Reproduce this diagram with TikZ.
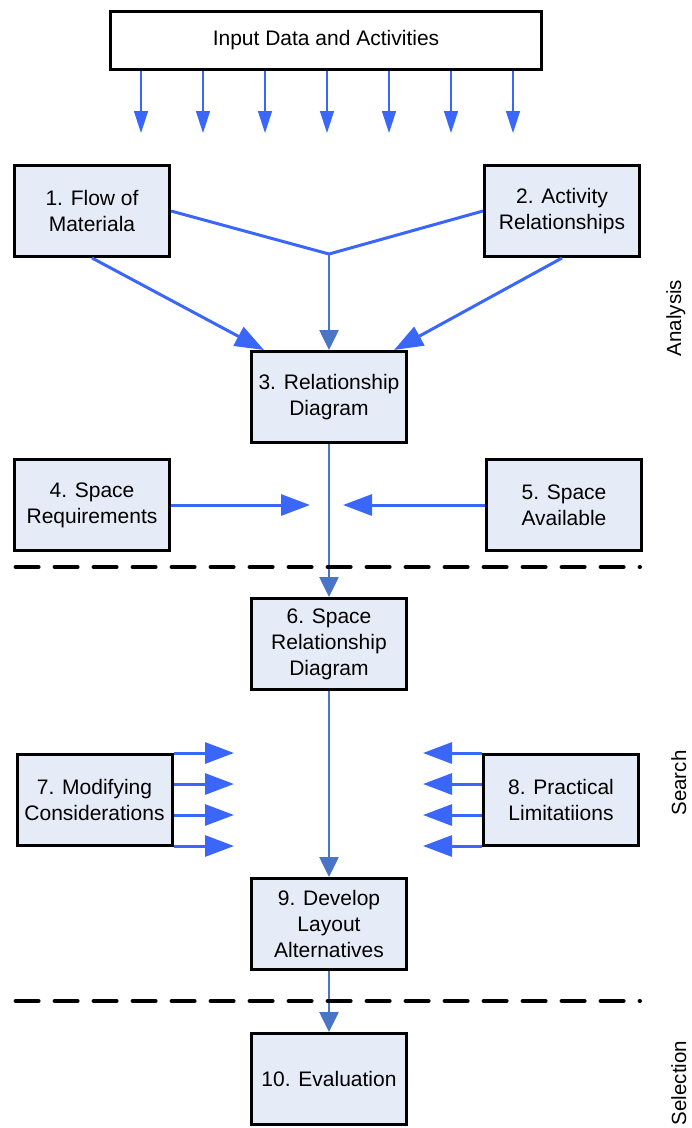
\documentclass[tikz,border=0pt]{standalone}
\usepackage{fontspec}
\setmainfont{Liberation Sans}
\usetikzlibrary{arrows.meta,calc}

\definecolor{boxfill}{RGB}{230,236,247}
\definecolor{flowblue}{RGB}{58,102,250}
\definecolor{mainblue}{RGB}{72,118,196}

\tikzset{
  stepbox/.style={draw=black, line width=3pt, fill=boxfill, align=center,
    minimum width=155pt, minimum height=91pt, inner sep=2pt,
    font=\fontsize{21}{26}\selectfont},
  inbox/.style={draw=black, line width=3pt, fill=white, align=center,
    minimum width=431pt, minimum height=58pt,
    font=\fontsize{21}{26}\selectfont},
  feed/.style={draw=flowblue, line width=1.4pt, -{Triangle[length=22pt,width=14pt]}},
  side/.style={draw=flowblue, line width=3pt, -{Triangle[length=29pt,width=21pt]}},
  merge/.style={draw=flowblue, line width=3pt, line join=miter},
  mainflow/.style={draw=mainblue, line width=2.6pt, -{Triangle[length=20pt,width=19pt]}},
  divider/.style={draw=black, line width=4pt, line cap=round, dash pattern=on 23pt off 16pt},
  phase/.style={rotate=90, anchor=base, inner sep=0pt, font=\fontsize{20.5}{24}\selectfont}
}

\begin{document}
\begin{tikzpicture}[x=1pt,y=-1pt]
\useasboundingbox (0,0) rectangle (692,1128);

% boxes
\node[inbox]   (in)  at (326,40.5) {Input Data and Activities};
\node[stepbox] (b1)  at (92,211)   {1. Flow of\\Materiala};
\node[stepbox] (b2)  at (562,211)  {2. Activity\\Relationships};
\node[stepbox] (b3)  at (329,397)  {3. Relationship\\Diagram};
\node[stepbox] (b4)  at (92,505)   {4. Space\\Requirements};
\node[stepbox] (b5)  at (564,505)  {5. Space\\Available};
\node[stepbox] (b6)  at (329,644)  {6. Space\\Relationship\\Diagram};
\node[stepbox] (b7)  at (94.5,799.5) {7. Modifying\\Considerations};
\node[stepbox] (b8)  at (561,799.5)  {8. Practical\\Limitatiions};
\node[stepbox] (b9)  at (329,924)  {9. Develop\\Layout\\Alternatives};
\node[stepbox] (b10) at (329,1079) {10. Evaluation};

% input feeds
\foreach \i/\x in {1/141,2/203,3/265,4/327,5/389,6/451,7/513}{
  \coordinate (t\i) at (\x,133);
  \draw[feed] (in.south -| t\i) -- (t\i);
}

% analysis connectors
\coordinate (J) at (329,254);
\draw[merge] (b1.east) -- (J) -- (b2.west);
\draw[mainflow] (J) -- (b3.north);
\draw[side] (b1.south) -- ($(b3.north west)+(14,0)$);
\draw[side] (b2.south) -- ($(b3.north east)+(-14,0)$);

\coordinate (s4) at (310,505);
\coordinate (s5) at (343,505);
\draw[side] (b4.east) -- (s4);
\draw[side] (b5.west) -- (s5);

\draw[mainflow] (b3.south) -- (b6.north);

% search connectors
\foreach \i/\y in {1/753,2/784,3/815,4/846}{
  \coordinate (m\i) at (234,\y);
  \coordinate (p\i) at (423,\y);
  \draw[side] (b7.east |- m\i) -- (m\i);
  \draw[side] (b8.west |- p\i) -- (p\i);
}
\draw[mainflow] (b6.south) -- (b9.north);
\draw[mainflow] (b9.south) -- (b10.north);

% phase dividers
\draw[divider] (15.6,567) -- (640,567);
\draw[divider] (15.6,1001) -- (640,1001);

% phase labels
\node[phase] (la) at (681,318)  {Analysis};
\node[phase] (ls) at (686,783)  {Search};
\node[phase] (lc) at (686,1083) {Selection};
\end{tikzpicture}
\end{document}
